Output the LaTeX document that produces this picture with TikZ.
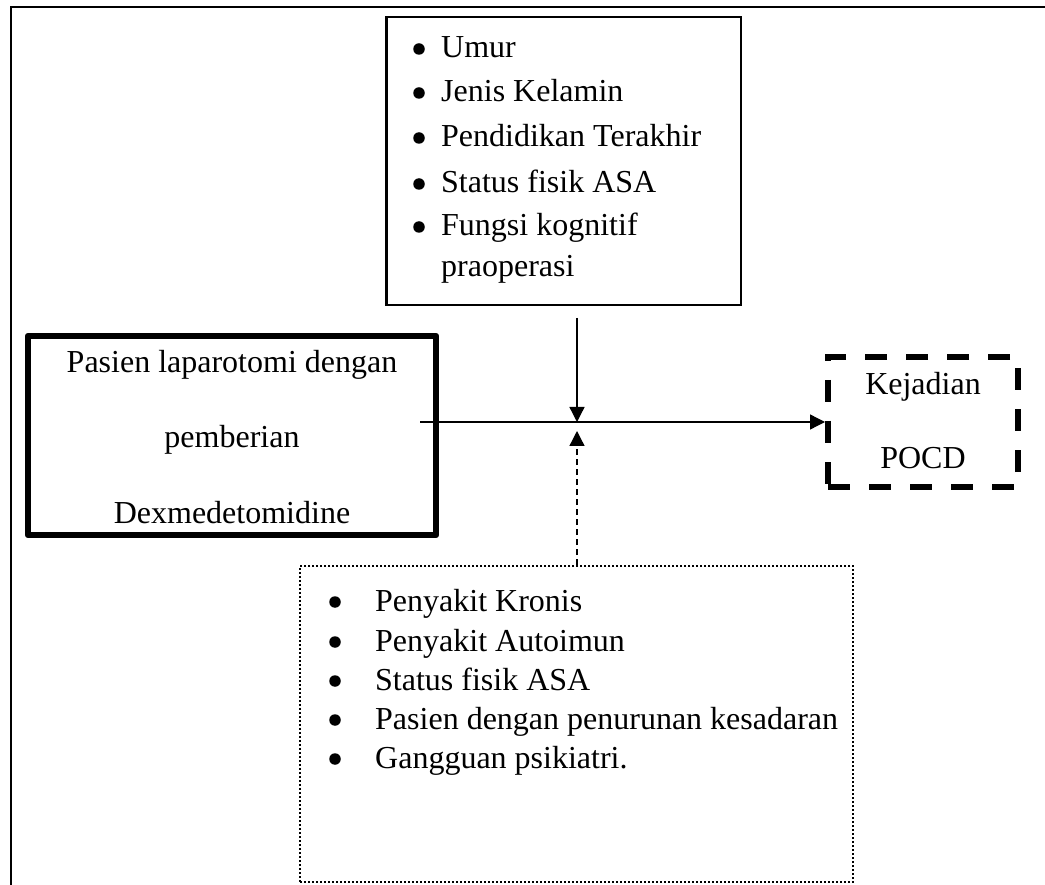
\documentclass[tikz,border=0pt]{standalone}
\usepackage{fontspec}
\setmainfont{Liberation Serif}
\usetikzlibrary{arrows.meta,calc}
\begin{document}
\begin{tikzpicture}[x=1pt,y=-1pt,
  txt/.style={inner sep=0pt,font=\fontsize{32}{38}\selectfont},
  item/.style={txt,anchor=base west},
  bul/.style={circle,fill,inner sep=0pt,minimum size=11.5pt},
  ctr/.style={txt,anchor=base},
  plainbox/.style={draw,line width=2.6pt,inner sep=0pt,minimum width=#1},
  heavybox/.style={draw,line width=6.5pt,line join=round,inner sep=0pt},
  outcomebox/.style={draw,line width=6pt,dash pattern=on 22pt off 19pt,inner sep=0pt},
  dotbox/.style={draw,line width=2pt,dash pattern=on 2pt off 2pt,inner sep=0pt},
  tip/.style={-{Triangle[length=15pt,width=15pt]}},
  flow/.style={tip,line width=1.3pt},
  flowdash/.style={tip,line width=1.3pt,dash pattern=on 6pt off 4pt}]
\useasboundingbox (0,0) rectangle (1045,885);

% open outer frame: top and left edges only
\draw[line width=2pt] (1045,7) -- (10.5,7) -- (10.5,885);

% moderating factors
\node[plainbox=354.5pt,minimum height=288pt] (conf) at (563.75,161) {};
\foreach \y/\t in {58/Umur,102/Jenis Kelamin,147/Pendidikan Terakhir,193/Status fisik ASA,236/Fungsi kognitif}{
  \node[bul] at (419,\y-9) {};
  \node[item] at (441,\y) {\t};
}
\node[item] (conflast) at (441,277) {praoperasi};

% independent variable
\node[heavybox,minimum width=408pt,minimum height=199pt] (indep) at (232,435.5) {};
\node[ctr] (indep1) at (232,373) {Pasien laparotomi dengan};
\node[ctr] (indep2) at (232,448) {pemberian};
\node[ctr] (indep3) at (232,523) {Dexmedetomidine};

% outcome
\node[outcomebox,minimum width=190pt,minimum height=130pt] (pocd) at (923,422) {};
\node[ctr] (pocd1) at (923,395) {Kejadian};
\node[ctr] (pocd2) at (923,468) {POCD};

% exclusion factors
\node[dotbox,minimum width=553pt,minimum height=316pt] (excl) at (576.5,724) {};
\foreach \y/\t in {611/Penyakit Kronis,651/Penyakit Autoimun,690/Status fisik ASA,729/Pasien dengan penurunan kesadaran,768/Gangguan psikiatri.}{
  \node[bul] at (335,\y-9) {};
  \node[item] at (375,\y) {\t};
}

% connectors
\coordinate (hstart) at (420,422);
\coordinate (junction) at (577,422);
\coordinate (downstart) at (577,318);
\coordinate (upend) at (577,431);
\draw[flow] (hstart) -- (pocd.west);
\draw[flow] (downstart) -- (junction);
\draw[flowdash] (excl.north -| junction) -- (upend);
\end{tikzpicture}
\end{document}
